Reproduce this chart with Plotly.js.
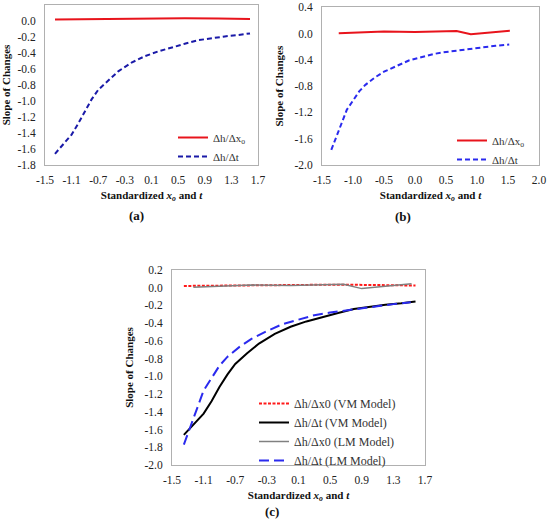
<!DOCTYPE html>
<html>
<head>
<meta charset="utf-8">
<script src="https://cdn.plot.ly/plotly-3.0.1.min.js"></script>
<style>html,body{margin:0;padding:0;background:#fff;}#chart{width:550px;height:530px;}</style>
</head>
<body>
<div id="chart"></div>
<script>
// VM model: dh/dt
var xVmT = [-1.35, -1.2, -1.1, -1.0, -0.9, -0.8, -0.7, -0.55, -0.4, -0.2, 0.0, 0.2, 0.4, 0.6, 0.8, 1.0, 1.2, 1.4, 1.58];
var yVmT = [-1.66, -1.52, -1.42, -1.28, -1.12, -0.98, -0.86, -0.74, -0.63, -0.52, -0.44, -0.38, -0.33, -0.285, -0.24, -0.215, -0.193, -0.175, -0.155];
// VM model: dh/dx0
var xVmX = [-1.35, -0.9, -0.4, 0.1, 0.6, 1.1, 1.58];
var yVmX = [0.02, 0.025, 0.03, 0.035, 0.035, 0.03, 0.025];
// LM model: dh/dt
var xLmT = [-1.35, -1.28, -1.2, -1.1, -1.0, -0.9, -0.8, -0.65, -0.5, -0.3, -0.1, 0.1, 0.3, 0.5, 0.7, 0.9, 1.1, 1.3, 1.52];
var yLmT = [-1.77, -1.60, -1.40, -1.16, -1.02, -0.88, -0.78, -0.67, -0.58, -0.49, -0.41, -0.36, -0.31, -0.28, -0.255, -0.23, -0.205, -0.185, -0.165];
// LM model: dh/dx0
var xLmX = [-1.23, -0.9, -0.5, 0.0, 0.4, 0.67, 0.9, 1.2, 1.53];
var yLmX = [0.005, 0.02, 0.03, 0.025, 0.035, 0.04, -0.01, 0.015, 0.045];

var xTicksA = [-1.5, -1.1, -0.7, -0.3, 0.1, 0.5, 0.9, 1.3, 1.7];
var yTicksA = [0.2, 0.0, -0.2, -0.4, -0.6, -0.8, -1.0, -1.2, -1.4, -1.6, -1.8];
var xTicksB = [-1.5, -1.0, -0.5, 0.0, 0.5, 1.0, 1.5, 2.0];
var yTicksB = [0.4, 0.0, -0.4, -0.8, -1.2, -1.6, -2.0];
var yTicksC = [0.2, 0.0, -0.2, -0.4, -0.6, -0.8, -1.0, -1.2, -1.4, -1.6, -1.8, -2.0];

var serif = 'Liberation Serif';
var W = 550, H = 530;
function px(x){return x/W;}
function py(y){return 1 - y/H;}
function fnt(size, color){return {family:serif, size:size, color:color};}

var traces = [
  {x:xVmX, y:yVmX, mode:'lines', name:'Δh/Δx<sub>o</sub>', line:{color:'#e8141c', width:2}, xaxis:'x', yaxis:'y', legend:'legend'},
  {x:xVmT, y:yVmT, mode:'lines', name:'Δh/Δt', line:{color:'#1a1aa8', width:2, dash:'5px,3px'}, xaxis:'x', yaxis:'y', legend:'legend'},
  {x:xLmX, y:yLmX, mode:'lines', name:'Δh/Δx<sub>o</sub>', line:{color:'#e8141c', width:2}, xaxis:'x2', yaxis:'y2', legend:'legend2'},
  {x:xLmT, y:yLmT, mode:'lines', name:'Δh/Δt', line:{color:'#2a2aee', width:2, dash:'5px,3px'}, xaxis:'x2', yaxis:'y2', legend:'legend2'},
  {x:xVmX, y:yVmX, mode:'lines', name:'Δh/Δx0 (VM Model)', line:{color:'#ff1a1a', width:2, dash:'3px,1.5px'}, xaxis:'x3', yaxis:'y3', legend:'legend3'},
  {x:xVmT, y:yVmT, mode:'lines', name:'Δh/Δt (VM Model)', line:{color:'#000000', width:2}, xaxis:'x3', yaxis:'y3', legend:'legend3'},
  {x:xLmX, y:yLmX, mode:'lines', name:'Δh/Δx0 (LM Model)', line:{color:'#808080', width:1.5}, xaxis:'x3', yaxis:'y3', legend:'legend3'},
  {x:xLmT, y:yLmT, mode:'lines', name:'Δh/Δt (LM Model)', line:{color:'#2a2aee', width:2, dash:'10px,5px'}, xaxis:'x3', yaxis:'y3', legend:'legend3'}
];

function xax(domain, range, ticks, anchor){
  return {domain:domain, range:range, tickvals:ticks, ticktext:ticks.map(function(v){return v.toFixed(1);}),
    showgrid:false, zeroline:false, showline:true, mirror:true, linecolor:'#b0b0b0', linewidth:1,
    ticks:'', tickfont:fnt(11.5,'#222'), ticklabelstandoff:4, anchor:anchor,
    title:{text:'<b>Standardized <i>x<sub>o</sub></i> and <i>t</i></b>', font:fnt(11,'#111'), standoff:6}};
}
function yax(domain, range, ticks, anchor){
  return {domain:domain, range:range, tickvals:ticks, ticktext:ticks.map(function(v){return v.toFixed(1);}),
    showgrid:false, zeroline:false, showline:true, mirror:true, linecolor:'#b0b0b0', linewidth:1,
    ticks:'', tickfont:fnt(11.5,'#222'), ticklabelstandoff:6, anchor:anchor,
    title:{text:'<b>Slope of Changes</b>', font:fnt(11,'#111'), standoff:8}};
}

var layout = {
  width:W, height:H, margin:{l:0, r:0, t:0, b:0}, paper_bgcolor:'#fff', plot_bgcolor:'#fff',
  font:fnt(11,'#222'),
  showlegend:true,
  xaxis: xax([px(45), px(258)], [-1.5, 1.7], xTicksA, 'y'),
  yaxis: yax([py(165), py(5)], [-1.8, 0.2], yTicksA, 'x'),
  xaxis2: xax([px(322), px(539)], [-1.5, 2.0], xTicksB, 'y2'),
  yaxis2: yax([py(165), py(7.3)], [-2.0, 0.4], yTicksB, 'x2'),
  xaxis3: xax([px(172), px(425)], [-1.5, 1.7], xTicksA, 'y3'),
  yaxis3: yax([py(465), py(270)], [-2.0, 0.2], yTicksC, 'x3'),
  legend: {x:px(173), y:py(123), xanchor:'left', yanchor:'top', bgcolor:'rgba(0,0,0,0)', font:fnt(11,'#333'), itemwidth:30, tracegroupgap:0},
  legend2: {x:px(452), y:py(126), xanchor:'left', yanchor:'top', bgcolor:'rgba(0,0,0,0)', font:fnt(11,'#333'), itemwidth:30, tracegroupgap:0},
  legend3: {x:px(254), y:py(389), xanchor:'left', yanchor:'top', bgcolor:'rgba(0,0,0,0)', font:fnt(12,'#333'), itemwidth:30, tracegroupgap:0},
  annotations: [
    {text:'<b>(a)</b>', x:px(127), y:py(215), xref:'paper', yref:'paper', showarrow:false, font:fnt(13,'#111')},
    {text:'<b>(b)</b>', x:px(413), y:py(216), xref:'paper', yref:'paper', showarrow:false, font:fnt(13,'#111')},
    {text:'<b>(c)</b>', x:px(272), y:py(521), xref:'paper', yref:'paper', showarrow:false, font:fnt(13,'#111')}
  ]
};

Plotly.newPlot('chart', traces, layout, {staticPlot:true, displayModeBar:false});
</script>
</body>
</html>
